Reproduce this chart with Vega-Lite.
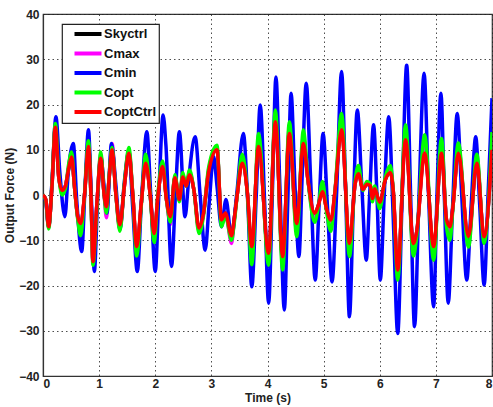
{
  "$schema": "https://vega.github.io/schema/vega-lite/v6.json",
  "width": 449,
  "height": 362,
  "autosize": {"type": "none"},
  "padding": {"left": 43, "top": 14, "right": 1, "bottom": 31},
  "background": "white",
  "config": {
    "font": "Liberation Sans",
    "view": {"stroke": "#333333", "strokeWidth": 1.2},
    "axis": {
      "labelFont": "Liberation Sans",
      "labelFontWeight": "bold",
      "labelFontSize": 12,
      "labelColor": "#222222",
      "titleFont": "Liberation Sans",
      "titleFontWeight": "bold",
      "titleFontSize": 12,
      "titleColor": "#222222",
      "domainColor": "#333333",
      "domainWidth": 1.2,
      "grid": true,
      "gridColor": "#222222",
      "gridDash": [1.5, 3],
      "gridWidth": 1,
      "gridOpacity": 0.8,
      "ticks": false
    },
    "legend": {
      "orient": "none",
      "legendX": 19,
      "legendY": 10,
      "strokeColor": "#222222",
      "strokeWidth": 1.2,
      "fillColor": "white",
      "padding": 3,
      "rowPadding": 3.5,
      "labelFont": "Liberation Sans",
      "labelFontWeight": "bold",
      "labelFontSize": 13,
      "labelColor": "#111111",
      "symbolType": "M-2.7,0H2.7",
      "symbolSize": 100,
      "symbolStrokeWidth": 4,
      "symbolOffset": 16,
      "labelOffset": 9,
      "title": null
    }
  },
  "datasets": {
    "ctrl": [
      {"t": 0.00, "CoptCtrl": 0, "Copt": 0, "Cmax": 0, "Skyctrl": 0},
      {"t": 0.05, "CoptCtrl": -1, "Copt": -1.2, "Cmax": -1.1, "Skyctrl": -1},
      {"t": 0.10, "CoptCtrl": -7, "Copt": -7.5, "Cmax": -7.2, "Skyctrl": -7},
      {"t": 0.16, "CoptCtrl": 2, "Copt": 2.5, "Cmax": 2.2, "Skyctrl": 2},
      {"t": 0.22, "CoptCtrl": 15, "Copt": 15.8, "Cmax": 15.3, "Skyctrl": 15},
      {"t": 0.28, "CoptCtrl": 4, "Copt": 4.5, "Cmax": 4.2, "Skyctrl": 4},
      {"t": 0.34, "CoptCtrl": 1, "Copt": 0, "Cmax": 0.5, "Skyctrl": 1},
      {"t": 0.40, "CoptCtrl": 2, "Copt": 1.5, "Cmax": 2, "Skyctrl": 2},
      {"t": 0.46, "CoptCtrl": 6, "Copt": 7, "Cmax": 6.5, "Skyctrl": 6},
      {"t": 0.51, "CoptCtrl": 8.4, "Copt": 9.5, "Cmax": 9, "Skyctrl": 8.6},
      {"t": 0.56, "CoptCtrl": 2, "Copt": 2, "Cmax": 2, "Skyctrl": 2},
      {"t": 0.62, "CoptCtrl": -4.8, "Copt": -5.5, "Cmax": -5.2, "Skyctrl": -5},
      {"t": 0.67, "CoptCtrl": -6.3, "Copt": -9, "Cmax": -8, "Skyctrl": -7},
      {"t": 0.74, "CoptCtrl": 0, "Copt": 0, "Cmax": 0, "Skyctrl": 0},
      {"t": 0.81, "CoptCtrl": 10.7, "Copt": 12, "Cmax": 11.5, "Skyctrl": 11},
      {"t": 0.86, "CoptCtrl": -2, "Copt": -3, "Cmax": -2.5, "Skyctrl": -2},
      {"t": 0.89, "CoptCtrl": -14.7, "Copt": -15.5, "Cmax": -15, "Skyctrl": -14.8},
      {"t": 0.96, "CoptCtrl": -2, "Copt": -3, "Cmax": -2, "Skyctrl": -2},
      {"t": 1.03, "CoptCtrl": 8.1, "Copt": 9.5, "Cmax": 9, "Skyctrl": 8.4},
      {"t": 1.09, "CoptCtrl": 0, "Copt": 0, "Cmax": 0, "Skyctrl": 0},
      {"t": 1.13, "CoptCtrl": -2.6, "Copt": -4, "Cmax": -5, "Skyctrl": -3},
      {"t": 1.18, "CoptCtrl": 4, "Copt": 4.5, "Cmax": 4.5, "Skyctrl": 4},
      {"t": 1.23, "CoptCtrl": 10, "Copt": 10.5, "Cmax": 11.4, "Skyctrl": 10.3},
      {"t": 1.30, "CoptCtrl": 0, "Copt": 0, "Cmax": 0, "Skyctrl": 0},
      {"t": 1.37, "CoptCtrl": -6.6, "Copt": -8, "Cmax": -7.5, "Skyctrl": -7},
      {"t": 1.45, "CoptCtrl": 2, "Copt": 2.5, "Cmax": 2, "Skyctrl": 2},
      {"t": 1.53, "CoptCtrl": 9.2, "Copt": 10.5, "Cmax": 10, "Skyctrl": 9.5},
      {"t": 1.60, "CoptCtrl": 0, "Copt": 0, "Cmax": 0, "Skyctrl": 0},
      {"t": 1.67, "CoptCtrl": -11.4, "Copt": -13.5, "Cmax": -12.5, "Skyctrl": -12},
      {"t": 1.75, "CoptCtrl": -2, "Copt": -2.5, "Cmax": -2, "Skyctrl": -2},
      {"t": 1.83, "CoptCtrl": 7, "Copt": 9, "Cmax": 8, "Skyctrl": 7.5},
      {"t": 1.91, "CoptCtrl": 0, "Copt": 0, "Cmax": 0, "Skyctrl": 0},
      {"t": 1.98, "CoptCtrl": -8.5, "Copt": -10.5, "Cmax": -9.5, "Skyctrl": -9},
      {"t": 2.05, "CoptCtrl": 0, "Copt": 0.5, "Cmax": 0, "Skyctrl": 0},
      {"t": 2.13, "CoptCtrl": 6.3, "Copt": 7.5, "Cmax": 7, "Skyctrl": 6.6},
      {"t": 2.20, "CoptCtrl": -1, "Copt": -1, "Cmax": -1, "Skyctrl": -1},
      {"t": 2.27, "CoptCtrl": -4.8, "Copt": -6, "Cmax": -6.5, "Skyctrl": -5},
      {"t": 2.35, "CoptCtrl": 3.8, "Copt": 4.5, "Cmax": 4, "Skyctrl": 4},
      {"t": 2.43, "CoptCtrl": -1, "Copt": -1.5, "Cmax": -1, "Skyctrl": -1},
      {"t": 2.49, "CoptCtrl": 4, "Copt": 5, "Cmax": 4.5, "Skyctrl": 4.2},
      {"t": 2.55, "CoptCtrl": 2, "Copt": 2, "Cmax": 2, "Skyctrl": 2},
      {"t": 2.61, "CoptCtrl": 4.5, "Copt": 5.5, "Cmax": 5, "Skyctrl": 4.7},
      {"t": 2.69, "CoptCtrl": 1, "Copt": 1, "Cmax": 1, "Skyctrl": 1},
      {"t": 2.78, "CoptCtrl": -7.3, "Copt": -8.5, "Cmax": -8, "Skyctrl": -7.5},
      {"t": 2.86, "CoptCtrl": -4, "Copt": -4.5, "Cmax": -4, "Skyctrl": -4},
      {"t": 2.95, "CoptCtrl": 5, "Copt": 6, "Cmax": 5.5, "Skyctrl": 5},
      {"t": 3.10, "CoptCtrl": 10, "Copt": 11, "Cmax": 10.5, "Skyctrl": 10.2},
      {"t": 3.18, "CoptCtrl": -5.5, "Copt": -7, "Cmax": -6.5, "Skyctrl": -6},
      {"t": 3.25, "CoptCtrl": -4, "Copt": -4.5, "Cmax": -4, "Skyctrl": -4},
      {"t": 3.36, "CoptCtrl": -9, "Copt": -10, "Cmax": -10.7, "Skyctrl": -9.5},
      {"t": 3.40, "CoptCtrl": -6, "Copt": -7, "Cmax": -6.5, "Skyctrl": -6},
      {"t": 3.46, "CoptCtrl": 0, "Copt": 0, "Cmax": 0, "Skyctrl": 0},
      {"t": 3.55, "CoptCtrl": 7, "Copt": 9, "Cmax": 8, "Skyctrl": 7.5},
      {"t": 3.64, "CoptCtrl": 0.7, "Copt": 0.5, "Cmax": 0.5, "Skyctrl": 0.7},
      {"t": 3.72, "CoptCtrl": -11.4, "Copt": -15.4, "Cmax": -13.5, "Skyctrl": -12},
      {"t": 3.84, "CoptCtrl": 10.7, "Copt": 13.6, "Cmax": 12, "Skyctrl": 11.2},
      {"t": 4.02, "CoptCtrl": -12.9, "Copt": -15.5, "Cmax": -14, "Skyctrl": -13.5},
      {"t": 4.14, "CoptCtrl": 16.2, "Copt": 18.8, "Cmax": 17.5, "Skyctrl": 16.8},
      {"t": 4.27, "CoptCtrl": -13.6, "Copt": -16.6, "Cmax": -15, "Skyctrl": -14.2},
      {"t": 4.39, "CoptCtrl": 13.6, "Copt": 16.2, "Cmax": 15, "Skyctrl": 14.2},
      {"t": 4.52, "CoptCtrl": -6.3, "Copt": -9.2, "Cmax": -8, "Skyctrl": -7},
      {"t": 4.64, "CoptCtrl": 11.4, "Copt": 14.4, "Cmax": 13, "Skyctrl": 12},
      {"t": 4.72, "CoptCtrl": 3.4, "Copt": 3.5, "Cmax": 3.4, "Skyctrl": 3.4},
      {"t": 4.84, "CoptCtrl": -4, "Copt": -6, "Cmax": -5, "Skyctrl": -4.5},
      {"t": 4.90, "CoptCtrl": -2.5, "Copt": -3, "Cmax": -3, "Skyctrl": -2.5},
      {"t": 4.98, "CoptCtrl": 0.7, "Copt": 3, "Cmax": 2, "Skyctrl": 1},
      {"t": 5.05, "CoptCtrl": -3, "Copt": -3.5, "Cmax": -3, "Skyctrl": -3},
      {"t": 5.13, "CoptCtrl": -5.5, "Copt": -8, "Cmax": -7, "Skyctrl": -6},
      {"t": 5.20, "CoptCtrl": 0.5, "Copt": 0.5, "Cmax": 0.5, "Skyctrl": 0.5},
      {"t": 5.32, "CoptCtrl": 14.4, "Copt": 18, "Cmax": 16, "Skyctrl": 15},
      {"t": 5.46, "CoptCtrl": -10.7, "Copt": -13.6, "Cmax": -12, "Skyctrl": -11.2},
      {"t": 5.56, "CoptCtrl": 2.4, "Copt": 3, "Cmax": 2.5, "Skyctrl": 2.4},
      {"t": 5.62, "CoptCtrl": 4.7, "Copt": 6.5, "Cmax": 5.5, "Skyctrl": 5},
      {"t": 5.70, "CoptCtrl": 1.2, "Copt": 1, "Cmax": 1, "Skyctrl": 1.2},
      {"t": 5.77, "CoptCtrl": 2.4, "Copt": 3, "Cmax": 2.5, "Skyctrl": 2.4},
      {"t": 5.83, "CoptCtrl": 2.1, "Copt": 2.5, "Cmax": 2, "Skyctrl": 2.1},
      {"t": 5.87, "CoptCtrl": -0.8, "Copt": -1.5, "Cmax": -1, "Skyctrl": -0.8},
      {"t": 5.91, "CoptCtrl": 1.4, "Copt": 2, "Cmax": 1.5, "Skyctrl": 1.4},
      {"t": 6.00, "CoptCtrl": -1.6, "Copt": -3, "Cmax": -2, "Skyctrl": -1.8},
      {"t": 6.10, "CoptCtrl": 3.4, "Copt": 4, "Cmax": 3.5, "Skyctrl": 3.4},
      {"t": 6.19, "CoptCtrl": 4.9, "Copt": 6.5, "Cmax": 5.5, "Skyctrl": 5.1},
      {"t": 6.24, "CoptCtrl": 1, "Copt": 1, "Cmax": 1, "Skyctrl": 1},
      {"t": 6.32, "CoptCtrl": -16.6, "Copt": -18.8, "Cmax": -17.5, "Skyctrl": -17},
      {"t": 6.46, "CoptCtrl": 12.2, "Copt": 15.5, "Cmax": 14, "Skyctrl": 12.8},
      {"t": 6.60, "CoptCtrl": -10.7, "Copt": -13.5, "Cmax": -12, "Skyctrl": -11.2},
      {"t": 6.66, "CoptCtrl": -8, "Copt": -9, "Cmax": -8.5, "Skyctrl": -8},
      {"t": 6.80, "CoptCtrl": 9.2, "Copt": 13.3, "Cmax": 11, "Skyctrl": 10},
      {"t": 6.96, "CoptCtrl": -11.4, "Copt": -14.4, "Cmax": -13, "Skyctrl": -12},
      {"t": 7.10, "CoptCtrl": 9.2, "Copt": 12.5, "Cmax": 11, "Skyctrl": 9.8},
      {"t": 7.19, "CoptCtrl": -5.5, "Copt": -7, "Cmax": -6, "Skyctrl": -5.5},
      {"t": 7.25, "CoptCtrl": -7, "Copt": -10, "Cmax": -8.5, "Skyctrl": -7.5},
      {"t": 7.30, "CoptCtrl": -3, "Copt": -3.5, "Cmax": -3, "Skyctrl": -3},
      {"t": 7.40, "CoptCtrl": 9.2, "Copt": 11.5, "Cmax": 10.5, "Skyctrl": 9.6},
      {"t": 7.58, "CoptCtrl": -9.2, "Copt": -11.5, "Cmax": -10.5, "Skyctrl": -9.6},
      {"t": 7.73, "CoptCtrl": 7, "Copt": 9, "Cmax": 8, "Skyctrl": 7.4},
      {"t": 7.86, "CoptCtrl": -9.2, "Copt": -10.7, "Cmax": -10, "Skyctrl": -9.6},
      {"t": 8.00, "CoptCtrl": 10, "Copt": 13.9, "Cmax": 12, "Skyctrl": 10.6}
    ],
    "cmin": [
      {"t": 0.00, "Cmin": 0}, {"t": 0.05, "Cmin": -1.5}, {"t": 0.10, "Cmin": -7},
      {"t": 0.16, "Cmin": 3}, {"t": 0.23, "Cmin": 17.3}, {"t": 0.30, "Cmin": 5},
      {"t": 0.39, "Cmin": -4.8}, {"t": 0.45, "Cmin": 5}, {"t": 0.54, "Cmin": 11.4},
      {"t": 0.60, "Cmin": -1}, {"t": 0.69, "Cmin": -12.5}, {"t": 0.75, "Cmin": 2},
      {"t": 0.81, "Cmin": 14.4}, {"t": 0.86, "Cmin": 0}, {"t": 0.915, "Cmin": -16.9},
      {"t": 0.97, "Cmin": -2}, {"t": 1.03, "Cmin": 8.5}, {"t": 1.08, "Cmin": 3},
      {"t": 1.14, "Cmin": -4}, {"t": 1.22, "Cmin": 11.4}, {"t": 1.30, "Cmin": 2},
      {"t": 1.37, "Cmin": -7.7}, {"t": 1.45, "Cmin": 3}, {"t": 1.53, "Cmin": 9.6},
      {"t": 1.60, "Cmin": -3}, {"t": 1.68, "Cmin": -16.9}, {"t": 1.76, "Cmin": 0},
      {"t": 1.85, "Cmin": 14}, {"t": 1.92, "Cmin": 0}, {"t": 2.00, "Cmin": -16.9},
      {"t": 2.07, "Cmin": 2}, {"t": 2.14, "Cmin": 17.7}, {"t": 2.19, "Cmin": 11},
      {"t": 2.29, "Cmin": -15.8}, {"t": 2.36, "Cmin": 0}, {"t": 2.43, "Cmin": 14},
      {"t": 2.53, "Cmin": -4.8}, {"t": 2.60, "Cmin": 4}, {"t": 2.71, "Cmin": 12.9},
      {"t": 2.80, "Cmin": 0}, {"t": 2.89, "Cmin": -12.2}, {"t": 2.96, "Cmin": -2},
      {"t": 3.04, "Cmin": 8.5}, {"t": 3.10, "Cmin": 2}, {"t": 3.18, "Cmin": -7},
      {"t": 3.26, "Cmin": -1}, {"t": 3.36, "Cmin": -9.3}, {"t": 3.45, "Cmin": 0},
      {"t": 3.57, "Cmin": 13.6}, {"t": 3.65, "Cmin": -2}, {"t": 3.72, "Cmin": -20.3},
      {"t": 3.80, "Cmin": 0}, {"t": 3.87, "Cmin": 19.9}, {"t": 3.95, "Cmin": -2},
      {"t": 4.02, "Cmin": -23.9}, {"t": 4.09, "Cmin": 2}, {"t": 4.15, "Cmin": 26.1},
      {"t": 4.22, "Cmin": 2}, {"t": 4.30, "Cmin": -25.4}, {"t": 4.36, "Cmin": -2},
      {"t": 4.42, "Cmin": 22.5}, {"t": 4.49, "Cmin": 2}, {"t": 4.56, "Cmin": -13.6},
      {"t": 4.62, "Cmin": 5}, {"t": 4.69, "Cmin": 24.7}, {"t": 4.77, "Cmin": 3},
      {"t": 4.85, "Cmin": -18.8}, {"t": 4.92, "Cmin": -2}, {"t": 4.99, "Cmin": 13.6},
      {"t": 5.07, "Cmin": -3}, {"t": 5.15, "Cmin": -19.2}, {"t": 5.23, "Cmin": 0},
      {"t": 5.32, "Cmin": 27.3}, {"t": 5.39, "Cmin": 2}, {"t": 5.46, "Cmin": -26.9},
      {"t": 5.53, "Cmin": -2}, {"t": 5.60, "Cmin": 18.8}, {"t": 5.68, "Cmin": 2},
      {"t": 5.76, "Cmin": -14.4}, {"t": 5.82, "Cmin": 0}, {"t": 5.89, "Cmin": 15.5},
      {"t": 5.95, "Cmin": 0}, {"t": 6.01, "Cmin": -18.8}, {"t": 6.08, "Cmin": 0},
      {"t": 6.16, "Cmin": 17.3}, {"t": 6.24, "Cmin": -5}, {"t": 6.32, "Cmin": -30.6},
      {"t": 6.40, "Cmin": 0}, {"t": 6.48, "Cmin": 28.7}, {"t": 6.55, "Cmin": 0},
      {"t": 6.62, "Cmin": -29.1}, {"t": 6.70, "Cmin": 0}, {"t": 6.79, "Cmin": 26.9},
      {"t": 6.87, "Cmin": 0}, {"t": 6.96, "Cmin": -24.7}, {"t": 7.02, "Cmin": 0},
      {"t": 7.09, "Cmin": 22.5}, {"t": 7.15, "Cmin": 0}, {"t": 7.22, "Cmin": -23.9},
      {"t": 7.30, "Cmin": -2}, {"t": 7.38, "Cmin": 18}, {"t": 7.46, "Cmin": 0},
      {"t": 7.55, "Cmin": -18.8}, {"t": 7.63, "Cmin": -2}, {"t": 7.71, "Cmin": 12.9},
      {"t": 7.78, "Cmin": -2}, {"t": 7.86, "Cmin": -19.9}, {"t": 7.93, "Cmin": 0},
      {"t": 8.00, "Cmin": 21.4}
    ]
  },
  "encoding": {
    "x": {
      "field": "t",
      "type": "quantitative",
      "scale": {"domain": [0, 8], "nice": false},
      "axis": {"title": "Time (s)", "values": [0, 1, 2, 3, 4, 5, 6, 7, 8], "labelPadding": 2, "titlePadding": 3, "format": "d"}
    }
  },
  "layer": [
    {
      "data": {"name": "ctrl"},
      "mark": {"type": "line", "interpolate": "monotone", "strokeWidth": 3.5, "clip": true},
      "encoding": {
        "y": {"field": "Skyctrl", "type": "quantitative", "scale": {"domain": [-40, 40], "nice": false}, "axis": {"title": "Output Force (N)", "values": [-40, -30, -20, -10, 0, 10, 20, 30, 40], "labelPadding": 4, "titlePadding": 2}},
        "color": {
          "datum": "Skyctrl",
          "scale": {"domain": ["Skyctrl", "Cmax", "Cmin", "Copt", "CoptCtrl"], "range": ["#000000", "#ff00ff", "#0000ff", "#00ff00", "#ff0000"]}
        }
      }
    },
    {
      "data": {"name": "ctrl"},
      "mark": {"type": "line", "interpolate": "monotone", "strokeWidth": 3.5, "clip": true},
      "encoding": {
        "y": {"field": "Cmax", "type": "quantitative", "title": "Output Force (N)"},
        "color": {"datum": "Cmax"}
      }
    },
    {
      "data": {"name": "cmin"},
      "mark": {"type": "line", "interpolate": "monotone", "strokeWidth": 3.5, "clip": true},
      "encoding": {
        "y": {"field": "Cmin", "type": "quantitative", "title": "Output Force (N)"},
        "color": {"datum": "Cmin"}
      }
    },
    {
      "data": {"name": "ctrl"},
      "mark": {"type": "line", "interpolate": "monotone", "strokeWidth": 3.5, "clip": true},
      "encoding": {
        "y": {"field": "Copt", "type": "quantitative", "title": "Output Force (N)"},
        "color": {"datum": "Copt"}
      }
    },
    {
      "data": {"name": "ctrl"},
      "mark": {"type": "line", "interpolate": "monotone", "strokeWidth": 3.5, "clip": true},
      "encoding": {
        "y": {"field": "CoptCtrl", "type": "quantitative", "title": "Output Force (N)"},
        "color": {"datum": "CoptCtrl"}
      }
    }
  ]
}
